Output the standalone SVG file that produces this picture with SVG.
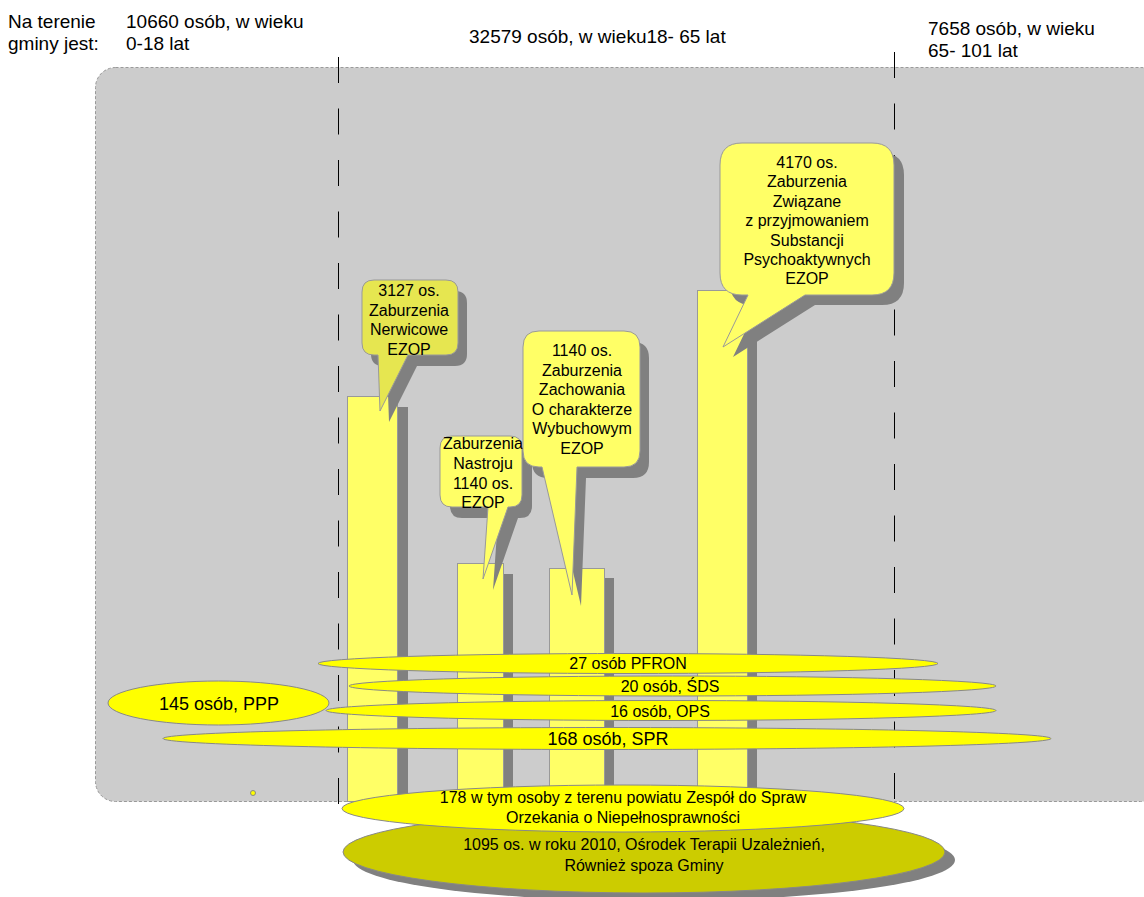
<svg xmlns="http://www.w3.org/2000/svg" width="1144" height="897" viewBox="0 0 1144 897">
<style>
text{font-family:"Liberation Sans",Arial,sans-serif;fill:#000}
.hdr{font-size:19px}
.t16{font-size:16px;text-anchor:middle}
.t18{font-size:18px;text-anchor:middle}
.bar{fill:#ffff66;stroke:#999;stroke-width:1}
.shadow{fill:#808080}
.call{fill:#ffff66;stroke:#999;stroke-width:1}
.ell{fill:#ffff00;stroke:#888;stroke-width:1}
.guide{stroke:#000;stroke-width:1;stroke-dasharray:26 25.5;fill:none}
</style>
<rect x="95.5" y="67.5" width="1065" height="734" rx="20" ry="20" fill="#cccccc" stroke="#999" stroke-width="1" stroke-dasharray="3 2"/>
<g id="header">
<text class="hdr" x="8" y="28">Na terenie</text>
<text class="hdr" x="8" y="50">gminy jest:</text>
<text class="hdr" x="126" y="28">10660 osób, w wieku</text>
<text class="hdr" x="126" y="50">0-18 lat</text>
<text class="hdr" x="469" y="43">32579 osób, w wieku18- 65 lat</text>
<text class="hdr" x="928" y="35">7658 osób, w wieku</text>
<text class="hdr" x="928" y="57">65- 101 lat</text>
</g>
<g id="guides">
<line class="guide" x1="338.5" y1="57" x2="338.5" y2="804"/>
<line class="guide" x1="894.5" y1="52" x2="894.5" y2="799"/>
</g>
<g id="bars">
<rect class="shadow" x="357" y="407" width="51" height="394"/>
<rect class="bar" x="347.5" y="396.5" width="50" height="405"/>
<rect class="shadow" x="467" y="574" width="46" height="227"/>
<rect class="bar" x="457.5" y="563.5" width="46" height="238"/>
<rect class="shadow" x="559" y="578" width="55" height="223"/>
<rect class="bar" x="549.5" y="568.5" width="55" height="233"/>
<rect class="shadow" x="707" y="300" width="50" height="501"/>
<rect class="bar" x="697.5" y="290.5" width="50" height="511"/>
</g>
<g id="callout-nerwicowe">
<path class="shadow" transform="translate(9,11)" d="M374,280 H446 Q458,280 458,292 V343 Q458,355 446,355 H408 L380,411 L378,355 H374 Q362,355 362,343 V292 Q362,280 374,280 Z"/>
<path class="call" style="fill:#e6e650" d="M374,280 H446 Q458,280 458,292 V343 Q458,355 446,355 H408 L380,411 L378,355 H374 Q362,355 362,343 V292 Q362,280 374,280 Z"/>
<text class="t16" x="409" y="296">3127 os.</text>
<text class="t16" x="409" y="315.5">Zaburzenia</text>
<text class="t16" x="409" y="335">Nerwicowe</text>
<text class="t16" x="409" y="354.5">EZOP</text>
</g>
<g id="callout-nastroju">
<path class="shadow" transform="translate(10,11)" d="M452,436 H510 Q522,436 522,448 V495 Q522,507 510,507 H508 L483,579 L488,507 H452 Q440,507 440,495 V448 Q440,436 452,436 Z"/>
<path class="call" d="M452,436 H510 Q522,436 522,448 V495 Q522,507 510,507 H508 L483,579 L488,507 H452 Q440,507 440,495 V448 Q440,436 452,436 Z"/>
<text class="t16" x="483" y="449">Zaburzenia</text>
<text class="t16" x="483" y="469">Nastroju</text>
<text class="t16" x="483" y="489">1140 os.</text>
<text class="t16" x="483" y="508">EZOP</text>
</g>
<g id="callout-wybuchowe">
<path class="shadow" transform="translate(9,11)" d="M539,331 H624 Q640,331 640,347 V451 Q640,467 624,467 H577 L572,595 L542,467 H539 Q523,467 523,451 V347 Q523,331 539,331 Z"/>
<path class="call" d="M539,331 H624 Q640,331 640,347 V451 Q640,467 624,467 H577 L572,595 L542,467 H539 Q523,467 523,451 V347 Q523,331 539,331 Z"/>
<text class="t16" x="582" y="356">1140 os.</text>
<text class="t16" x="582" y="375.5">Zaburzenia</text>
<text class="t16" x="582" y="395">Zachowania</text>
<text class="t16" x="582" y="414.5">O charakterze</text>
<text class="t16" x="582" y="434">Wybuchowym</text>
<text class="t16" x="582" y="453.5">EZOP</text>
</g>
<g id="callout-substancje">
<path class="shadow" transform="translate(10,10)" d="M742,143 H872 Q894,143 894,165 V273 Q894,295 872,295 H805 L723,347 L748,295 H742 Q720,295 720,273 V165 Q720,143 742,143 Z"/>
<path class="call" d="M742,143 H872 Q894,143 894,165 V273 Q894,295 872,295 H805 L723,347 L748,295 H742 Q720,295 720,273 V165 Q720,143 742,143 Z"/>
<text class="t16" x="807" y="168">4170 os.</text>
<text class="t16" x="807" y="187.4">Zaburzenia</text>
<text class="t16" x="807" y="206.8">Związane</text>
<text class="t16" x="807" y="226.2">z przyjmowaniem</text>
<text class="t16" x="807" y="245.6">Substancji</text>
<text class="t16" x="807" y="265">Psychoaktywnych</text>
<text class="t16" x="807" y="284.4">EZOP</text>
</g>
<g id="pfron">
<ellipse class="ell" cx="628" cy="663.5" rx="310" ry="10"/>
<text class="t16" x="628" y="669">27 osób PFRON</text>
</g>
<g id="sds">
<ellipse class="ell" cx="672.5" cy="686" rx="323.5" ry="10"/>
<text class="t16" x="670" y="692">20 osób, ŚDS</text>
</g>
<g id="ops">
<ellipse class="ell" cx="661" cy="710.5" rx="335" ry="10"/>
<text class="t16" x="660" y="717">16 osób, OPS</text>
</g>
<g id="ppp">
<ellipse class="ell" cx="218.5" cy="703" rx="110.5" ry="22"/>
<text class="t18" x="219" y="710">145 osób, PPP</text>
</g>
<g id="spr">
<ellipse class="ell" cx="607" cy="738.5" rx="444" ry="11"/>
<text class="t18" x="608" y="745">168 osób, SPR</text>
</g>
<circle cx="253" cy="793" r="2.5" fill="#ffff00" stroke="#888" stroke-width="1"/>
<g id="out">
<ellipse class="shadow" cx="654" cy="860" rx="301" ry="41"/>
<ellipse cx="644" cy="852" rx="301" ry="41" fill="#cccc00" stroke="#888" stroke-width="1"/>
<text class="t16" x="644" y="850">1095 os. w roku 2010, Ośrodek Terapii Uzależnień,</text>
<text class="t16" x="644" y="871">Również spoza Gminy</text>
</g>
<g id="orzekanie">
<ellipse class="ell" cx="623" cy="808.5" rx="281" ry="23.5"/>
<text class="t16" x="623" y="803">178 w tym osoby z terenu powiatu Zespół do Spraw</text>
<text class="t16" x="623" y="823">Orzekania o Niepełnosprawności</text>
</g>
</svg>
